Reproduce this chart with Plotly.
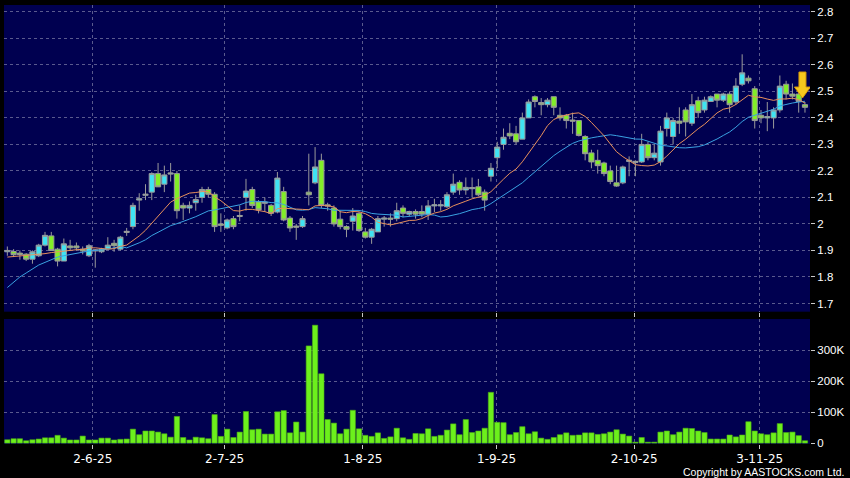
import pandas as pd
import plotly.graph_objects as go
from plotly.subplots import make_subplots

# Daily candles, oldest first
opens = [1.895, 1.896, 1.89, 1.886, 1.867, 1.88, 1.92, 1.955, 1.905, 1.86,
         1.917, 1.917, 1.905, 1.88, 1.898, 1.895, 1.907, 1.927, 1.905, 1.968,
         1.99, 2.09, 2.108, 2.12, 2.19, 2.15, 2.188, 2.19, 2.07, 2.06,
         2.08, 2.10, 2.13, 2.112, 2.0, 1.985, 2.02, 2.028, 2.10, 2.13,
         2.083, 2.078, 2.07, 2.045, 2.122, 2.022, 1.992, 1.99, 2.12, 2.155,
         2.24, 2.072, 2.06, 2.018, 1.99, 2.01, 2.04, 1.97, 1.95, 1.97,
         2.018, 2.022, 2.02, 2.06, 2.037, 2.047, 2.047, 2.037, 2.068, 2.068,
         2.065, 2.12, 2.157, 2.128, 2.133, 2.14, 2.12, 2.18, 2.25, 2.30,
         2.342, 2.34, 2.32, 2.40, 2.48, 2.458, 2.45, 2.48, 2.41, 2.41,
         2.392, 2.39, 2.33, 2.268, 2.24, 2.23, 2.20, 2.155, 2.155, 2.236,
         2.232, 2.234, 2.30, 2.25, 2.234, 2.36, 2.33, 2.388, 2.43, 2.38,
         2.465, 2.43, 2.462, 2.49, 2.467, 2.49, 2.46, 2.527, 2.55, 2.51,
         2.41, 2.40, 2.40, 2.43, 2.527, 2.49, 2.49, 2.45]
highs = [1.915, 1.905, 1.90, 1.89, 1.90, 1.925, 1.97, 1.97, 1.91, 1.945,
         1.94, 1.93, 1.915, 1.925, 1.905, 1.91, 1.95, 1.94, 1.955, 1.985,
         2.08, 2.116, 2.15, 2.195, 2.23, 2.22, 2.23, 2.20, 2.08, 2.085,
         2.11, 2.14, 2.14, 2.12, 2.04, 2.02, 2.03, 2.07, 2.17, 2.14,
         2.09, 2.10, 2.075, 2.196, 2.14, 2.03, 2.0, 2.03, 2.265, 2.29,
         2.265, 2.08, 2.07, 2.05, 1.995, 2.06, 2.045, 1.985, 1.985, 2.03,
         2.03, 2.04, 2.08, 2.07, 2.05, 2.055, 2.07, 2.09, 2.095, 2.09,
         2.12, 2.19, 2.165, 2.175, 2.175, 2.17, 2.13, 2.23, 2.31, 2.36,
         2.38, 2.37, 2.42, 2.47, 2.485, 2.475, 2.475, 2.48, 2.44, 2.415,
         2.42, 2.39, 2.335, 2.28, 2.28, 2.235, 2.22, 2.22, 2.22, 2.255,
         2.24, 2.34, 2.31, 2.30, 2.37, 2.42, 2.40, 2.44, 2.44, 2.49,
         2.48, 2.48, 2.485, 2.49, 2.495, 2.50, 2.55, 2.64, 2.56, 2.52,
         2.43, 2.46, 2.44, 2.56, 2.54, 2.53, 2.50, 2.46]
lows = [1.88, 1.875, 1.865, 1.86, 1.85, 1.875, 1.915, 1.90, 1.84, 1.86,
        1.90, 1.90, 1.885, 1.875, 1.835, 1.89, 1.905, 1.895, 1.90, 1.955,
        1.98, 2.05, 2.09, 2.09, 2.14, 2.12, 2.16, 2.02, 2.015, 2.04,
        2.05, 2.08, 2.10, 1.97, 1.97, 1.98, 1.98, 2.01, 2.05, 2.06,
        2.04, 2.045, 2.03, 2.04, 2.01, 1.97, 1.94, 1.985, 2.07, 2.15,
        2.06, 2.05, 1.99, 1.98, 1.95, 1.975, 1.97, 1.945, 1.925, 1.97,
        1.99, 1.99, 2.01, 2.025, 2.03, 2.02, 2.025, 2.015, 2.045, 2.05,
        2.06, 2.11, 2.11, 2.11, 2.10, 2.105, 2.05, 2.16, 2.21, 2.28,
        2.32, 2.30, 2.32, 2.40, 2.44, 2.41, 2.44, 2.41, 2.39, 2.36,
        2.34, 2.33, 2.24, 2.21, 2.19, 2.18, 2.15, 2.14, 2.15, 2.18,
        2.18, 2.23, 2.24, 2.24, 2.22, 2.33, 2.30, 2.34, 2.33, 2.37,
        2.40, 2.42, 2.46, 2.44, 2.46, 2.42, 2.45, 2.52, 2.53, 2.36,
        2.38, 2.35, 2.36, 2.42, 2.47, 2.47, 2.42, 2.42]
closes = [1.90, 1.884, 1.885, 1.867, 1.895, 1.92, 1.957, 1.90, 1.86, 1.925,
          1.91, 1.91, 1.898, 1.918, 1.902, 1.905, 1.92, 1.918, 1.95, 1.972,
          2.07, 2.095, 2.112, 2.19, 2.14, 2.185, 2.192, 2.05, 2.06, 2.07,
          2.092, 2.13, 2.112, 1.99, 1.995, 2.015, 1.99, 2.032, 2.124, 2.07,
          2.053, 2.082, 2.04, 2.173, 2.015, 1.985, 1.988, 2.02, 2.11, 2.215,
          2.07, 2.068, 2.0, 1.99, 1.98, 2.03, 1.975, 1.95, 1.98, 2.02,
          2.022, 2.018, 2.05, 2.04, 2.047, 2.037, 2.037, 2.068, 2.072, 2.072,
          2.11, 2.15, 2.128, 2.138, 2.137, 2.11, 2.09, 2.21, 2.29, 2.327,
          2.332, 2.31, 2.40, 2.46, 2.462, 2.45, 2.467, 2.44, 2.40, 2.39,
          2.388, 2.334, 2.265, 2.234, 2.22, 2.19, 2.16, 2.143, 2.215, 2.24,
          2.236, 2.30, 2.25, 2.267, 2.35, 2.40, 2.39, 2.38, 2.385, 2.45,
          2.42, 2.467, 2.48, 2.467, 2.49, 2.45, 2.52, 2.57, 2.54, 2.39,
          2.40, 2.405, 2.43, 2.52, 2.49, 2.482, 2.462, 2.44]
volumes = [10700, 14000, 14000, 7500, 10700, 13000, 17000, 17000, 25000, 16000,
           10000, 10000, 22600, 10000, 10000, 16000, 16000, 10000, 12000, 13000,
           45000, 27000, 39000, 39000, 35500, 30000, 19000, 86000, 18000, 10000,
           19000, 17000, 14000, 92000, 21500, 45000, 18000, 35500, 102000, 43000,
           45000, 29000, 29000, 101000, 105000, 33000, 68000, 35500, 314000, 381000,
           224000, 76000, 64500, 30000, 45000, 106000, 46000, 25000, 21500, 33000,
           15000, 20000, 48000, 17000, 12000, 31000, 30000, 46000, 21500, 25000,
           42000, 62000, 27000, 76000, 34000, 39000, 48000, 164000, 67000, 66000,
           27000, 34000, 53000, 30000, 36500, 16000, 12000, 18000, 27000, 33000,
           25000, 26000, 33000, 33000, 28000, 30000, 35500, 43000, 29000, 22600,
           3000, 18000, 3000, 3000, 35500, 39000, 27000, 35500, 48000, 47000,
           39000, 34000, 13000, 13000, 13000, 26000, 20000, 26000, 69000, 39000,
           30000, 27000, 33000, 63000, 34000, 35500, 24000, 7500]

# Moving averages before enough candles are on the chart
ma10_head = [1.875, 1.877, 1.88, 1.88, 1.882, 1.885, 1.888, 1.892, 1.895]
ma20_head = [1.76, 1.78, 1.80, 1.815, 1.83, 1.845, 1.855, 1.865, 1.875, 1.88,
             1.885, 1.89, 1.895, 1.898, 1.90, 1.902, 1.905, 1.91, 1.915]

date_ticks = [13.6, 34.6, 56.6, 77.9, 99.8, 119.8]
date_labels = ["2-6-25", "2-7-25", "1-8-25", "1-9-25", "2-10-25", "3-11-25"]
price_ticks = [1.7, 1.8, 1.9, 2.0, 2.1, 2.2, 2.3, 2.4, 2.5, 2.6, 2.7, 2.8]
price_labels = ["1.7", "1.8", "1.9", "2", "2.1", "2.2", "2.3", "2.4", "2.5", "2.6", "2.7", "2.8"]
vol_ticks = [0, 100000, 200000, 300000]
vol_labels = ["0", "100K", "200K", "300K"]

signal_day = [126.6]
signal_price = [2.475]

COLORS = {
    'paper': '#000000',
    'panel': '#000050',
    'grid': '#5A5A8E',
    'text': '#FFFFFF',
    'tick': '#C8C8C8',
    'up': '#3FE3F3',
    'down': '#82EE28',
    'wick': '#9A9A9A',
    'volume': '#6CF01C',
    'volume_edge': '#4FB012',
    'ma10': '#E8905C',
    'ma20': '#3AA2E2',
    'arrow': '#F7C81E',
    'arrow_edge': '#D89A08',
}

days = list(range(len(closes)))

close_s = pd.Series(closes)
ma10 = close_s.rolling(10).mean()
ma20 = close_s.rolling(20).mean()
ma10.iloc[:len(ma10_head)] = ma10_head
ma20.iloc[:len(ma20_head)] = ma20_head

fig = make_subplots(rows=2, cols=1, shared_xaxes=True)

fig.add_trace(
    go.Candlestick(
        x=days, open=opens, high=highs, low=lows, close=closes,
        increasing=dict(line=dict(color=COLORS['wick'], width=1), fillcolor=COLORS['up']),
        decreasing=dict(line=dict(color=COLORS['wick'], width=1), fillcolor=COLORS['down']),
        whiskerwidth=0, name="Price", showlegend=False, hoverinfo='skip'
    ),
    row=1, col=1
)
fig.add_trace(
    go.Scatter(x=days, y=ma20, mode='lines', line=dict(color=COLORS['ma20'], width=1),
               showlegend=False, hoverinfo='skip'),
    row=1, col=1
)
fig.add_trace(
    go.Scatter(x=days, y=ma10, mode='lines', line=dict(color=COLORS['ma10'], width=1),
               showlegend=False, hoverinfo='skip'),
    row=1, col=1
)
fig.add_trace(
    go.Bar(x=days, y=volumes, marker=dict(color=COLORS['volume'],
                                          line=dict(color=COLORS['volume_edge'], width=0.6)),
           showlegend=False, hoverinfo='skip'),
    row=2, col=1
)

# sell signal arrow, drawn in pixels around the signal point
for sx, sy in zip(signal_day, signal_price):
    fig.add_shape(
        type='path', xref='x', yref='y', xsizemode='pixel', ysizemode='pixel',
        xanchor=sx, yanchor=sy,
        path="M 0 0 L -8 11 L -3.5 11 L -3.5 26 L 3.5 26 L 3.5 11 L 8 11 Z",
        fillcolor=COLORS['arrow'], line=dict(color=COLORS['arrow_edge'], width=1),
    )

fig.update_layout(
    width=850, height=478,
    paper_bgcolor=COLORS['paper'],
    plot_bgcolor=COLORS['panel'],
    margin=dict(l=4, r=40, t=5, b=34),
    font=dict(family="Liberation Sans, Arial, sans-serif", color=COLORS['text'], size=11.5),
    showlegend=False,
    hovermode=False,
    bargap=0.16,
    boxgap=0.18,
    boxgroupgap=0,
    xaxis=dict(domain=[0, 1]),
    xaxis2=dict(domain=[0, 1]),
    yaxis=dict(domain=[0.3014, 1]),
    yaxis2=dict(domain=[0, 0.2847]),
)

for r in (1, 2):
    fig.update_xaxes(
        range=[-0.53, 127.8], tickvals=date_ticks, ticktext=date_labels,
        showgrid=True, gridcolor=COLORS['grid'], gridwidth=1, griddash='3px,3px',
        zeroline=False, showline=False, rangeslider_visible=False,
        ticks='outside', ticklen=4, tickcolor=COLORS['tick'],
        tickfont=dict(family="DejaVu Sans, Verdana, sans-serif", size=12),
        showticklabels=(r == 2), row=r, col=1
    )

fig.update_yaxes(
    range=[1.669, 2.826], tickvals=price_ticks, ticktext=price_labels, side='right',
    showgrid=True, gridcolor=COLORS['grid'], gridwidth=1, griddash='3px,3px',
    zeroline=False, ticks='outside', ticklen=4, tickcolor=COLORS['tick'],
    row=1, col=1
)
fig.update_yaxes(
    range=[-3000, 401000], tickvals=vol_ticks, ticktext=vol_labels, side='right',
    showgrid=True, gridcolor=COLORS['grid'], gridwidth=1, griddash='3px,3px',
    zeroline=False, ticks='outside', ticklen=4, tickcolor=COLORS['tick'],
    row=2, col=1
)

fig.add_annotation(
    text="Copyright by AASTOCKS.com Ltd.", xref='paper', yref='paper',
    x=1, y=0, xanchor='right', yanchor='middle', xshift=36, yshift=-28,
    showarrow=False, font=dict(size=10.5, color=COLORS['text'])
)

# the page body has a default margin; drop it so the chart sits at the window corner
fig.write_html("out.html", config={'displayModeBar': False},
               post_script="document.body.style.margin='0';")
